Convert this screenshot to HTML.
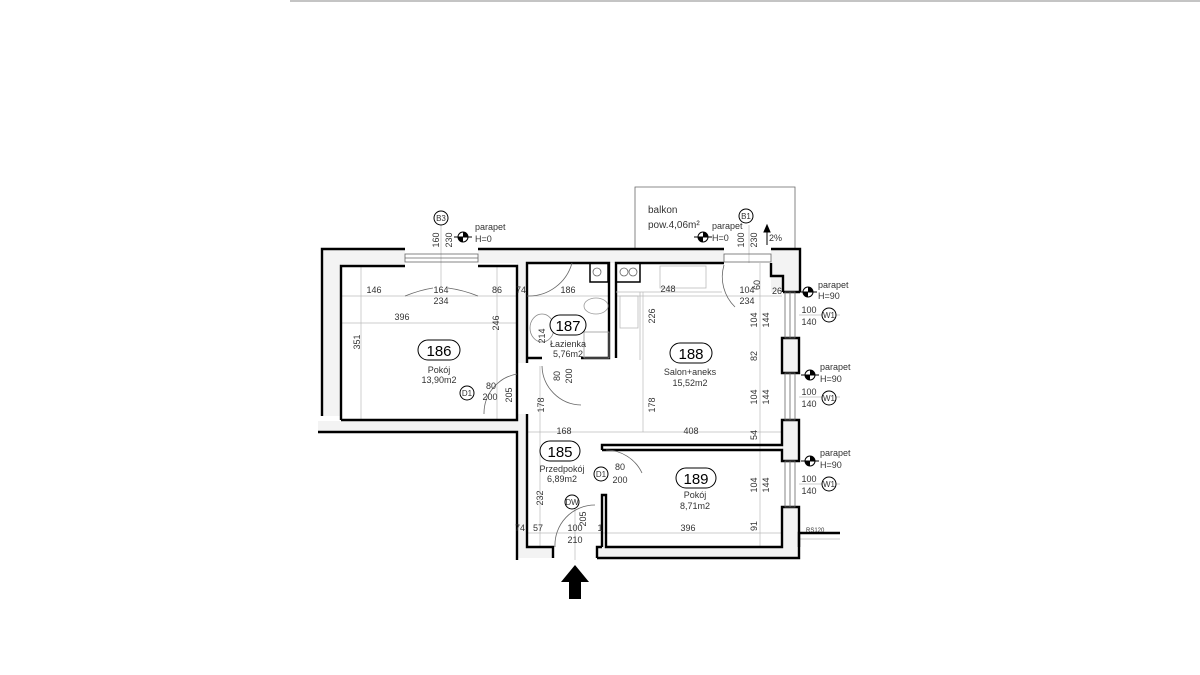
<!DOCTYPE html>
<html><head><meta charset="utf-8"><style>
html,body{margin:0;padding:0;background:#fff;}
svg{display:block;font-family:"Liberation Sans",sans-serif;}
.t{font-size:9px;fill:#333;}
.d{stroke:#bbb;stroke-width:0.7;fill:none;}
.w{stroke:#000;stroke-width:2.4;fill:none;}
.h{fill:#f3f3f3;}
.th{stroke:#666;stroke-width:0.8;fill:none;}
</style></head><body>
<svg width="1200" height="675" viewBox="0 0 1200 675">
<line x1="290" y1="1" x2="1200" y2="1" stroke="#888" stroke-width="1"/>
<g class="h">
<rect x="322" y="249" width="83" height="15"/>
<rect x="478" y="249" width="246" height="14"/>
<rect x="771" y="249" width="28" height="43"/>
<rect x="322" y="249" width="19" height="167"/>
<rect x="517" y="263" width="10" height="100"/>
<rect x="517" y="414" width="10" height="133"/>
<rect x="318" y="421" width="209" height="11"/>
<rect x="782" y="338" width="17" height="35"/>
<rect x="782" y="420" width="17" height="41"/>
<rect x="782" y="507" width="17" height="40"/>
<rect x="597" y="547" width="202" height="11"/>
<rect x="517" y="547" width="36" height="11"/>
</g>
<path d="M635 249 V187 H795 V249" class="th"/>
<g class="d">
<line x1="341" y1="296" x2="517" y2="296"/>
<line x1="341" y1="323" x2="517" y2="323"/>
<line x1="361" y1="267" x2="361" y2="420"/>
<line x1="497" y1="267" x2="497" y2="420"/>
<line x1="527" y1="432" x2="782" y2="432"/>
<line x1="527" y1="296" x2="609" y2="296"/>
<line x1="616" y1="296" x2="782" y2="296"/>
<line x1="527" y1="533" x2="782" y2="533"/>
<line x1="760" y1="263" x2="760" y2="547"/>
<line x1="643" y1="292" x2="643" y2="432"/>
<line x1="540" y1="366" x2="540" y2="547"/>
<line x1="799" y1="315" x2="840" y2="315"/>
<line x1="799" y1="397" x2="840" y2="397"/>
<line x1="799" y1="484" x2="840" y2="484"/>
<line x1="441" y1="225" x2="441" y2="290"/>
<line x1="749" y1="225" x2="749" y2="263"/>
<line x1="575" y1="500" x2="575" y2="560"/>
<line x1="799" y1="539" x2="840" y2="539"/>
</g>
<g class="w">
<path d="M322 416 V249 H405 M478 249 H724 M771 249 H800 V292"/>
<path d="M341 420 V266 H405 M478 266 H517 V420 H341"/>
<path d="M527 363 V263 H609 V358 H581 M542 358 H527"/>
<path d="M616 358 V263 H724 M771 263 V276 H783 V292"/>
<path d="M318 432 H517 V560"/>
<path d="M527 414 V547 H553 V558 M597 558 V547 H602"/>
<path d="M597 558 H799 V533 H840"/>
<path d="M602 547 V495 H606 V547 H782 V507 H799 V547"/>
<path d="M602 450 V445 H782 V420 H799 V461 H782 V450 H602"/>
<path d="M782 338 H799 V373 H782 Z"/>
<path d="M783 292 H800"/>
</g>
<g class="th">
<rect x="405" y="254" width="73" height="8"/>
<line x1="405" y1="258" x2="478" y2="258"/>
<rect x="724" y="254" width="47" height="8"/>
<rect x="785" y="292" width="10" height="46"/><line x1="790" y1="292" x2="790" y2="338"/>
<rect x="785" y="373" width="10" height="47"/><line x1="790" y1="373" x2="790" y2="420"/>
<rect x="785" y="461" width="10" height="46"/><line x1="790" y1="461" x2="790" y2="507"/>
<path d="M405 296 Q420 290 433 288"/><path d="M478 296 Q463 290 448 288"/>
<path d="M527 296 A45 45 0 0 0 572 263"/>
<path d="M484 414 A40 40 0 0 1 517 374"/>
<path d="M542 366 A40 40 0 0 0 581 405"/>
<path d="M606 450 A40 40 0 0 1 642 473"/>
<path d="M555 547 A40 40 0 0 1 595 505"/>
<path d="M724 265 A42 42 0 0 0 735 307"/>
<rect x="590" y="263" width="18" height="19" stroke="#000" stroke-width="1.5"/>
<rect x="616" y="263" width="24" height="19" stroke="#000" stroke-width="1.5"/>
<circle cx="597" cy="272" r="4"/><circle cx="624" cy="272" r="4"/><circle cx="633" cy="272" r="4"/>
<rect x="660" y="266" width="46" height="22" stroke="#bbb"/>
<path d="M616 292 H722 M640 292 V360" stroke="#bbb"/>
<rect x="620" y="296" width="18" height="32" stroke="#bbb"/>
<ellipse cx="596" cy="306" rx="12" ry="8" stroke="#999"/>
<ellipse cx="542" cy="328" rx="12" ry="14" stroke="#888"/>
<rect x="584" y="332" width="25" height="26" stroke="#999"/>
</g>
<g fill="#fff" stroke="#000" stroke-width="1">
<rect x="418" y="340" width="42" height="20" rx="10"/>
<rect x="550" y="315" width="36" height="20" rx="10"/>
<rect x="670" y="343" width="42" height="20" rx="10"/>
<rect x="540" y="441" width="40" height="20" rx="10"/>
<rect x="676" y="468" width="40" height="20" rx="10"/>
<circle cx="441" cy="218" r="7"/><circle cx="746" cy="216" r="7"/>
<circle cx="467" cy="393" r="7"/><circle cx="601" cy="474" r="7"/><circle cx="572" cy="502" r="7"/>
<circle cx="829" cy="315" r="7"/><circle cx="829" cy="398" r="7"/><circle cx="829" cy="484" r="7"/>
</g>
<g font-size="15" text-anchor="middle" fill="#000">
<text x="439" y="356">186</text><text x="568" y="331">187</text><text x="691" y="359">188</text>
<text x="560" y="457">185</text><text x="696" y="484">189</text>
</g>
<g class="t" text-anchor="middle">
<text x="439" y="373">Pokój</text><text x="439" y="383">13,90m2</text>
<text x="568" y="347">Łazienka</text><text x="568" y="357">5,76m2</text>
<text x="690" y="375">Salon+aneks</text><text x="690" y="386">15,52m2</text>
<text x="562" y="472">Przedpokój</text><text x="562" y="482">6,89m2</text>
<text x="695" y="498">Pokój</text><text x="695" y="509">8,71m2</text>
<text x="374" y="293">146</text><text x="441" y="293">164</text><text x="441" y="304">234</text><text x="497" y="293">86</text>
<text x="402" y="320">396</text><text x="521" y="293">74</text><text x="568" y="293">186</text>
<text x="668" y="292">248</text><text x="747" y="293">104</text><text x="747" y="304">234</text><text x="777" y="294">26</text>
<text x="564" y="434">168</text><text x="691" y="434">408</text><text x="688" y="531">396</text>
<text x="538" y="531">57</text><text x="520" y="531">74</text><text x="600" y="531">1</text>
<text x="575" y="531">100</text><text x="575" y="543">210</text>
<text x="491" y="389">80</text><text x="490" y="400">200</text>
<text x="620" y="470">80</text><text x="620" y="483">200</text>
<text x="441" y="221" font-size="8">B3</text><text x="746" y="219" font-size="8">B1</text>
<text x="467" y="396" font-size="8">D1</text><text x="601" y="477" font-size="8">D1</text><text x="572" y="505" font-size="8">DW</text>
<text x="829" y="318" font-size="8">W1</text><text x="829" y="401" font-size="8">W1</text><text x="829" y="487" font-size="8">W1</text>
<text x="809" y="313">100</text><text x="809" y="325">140</text>
<text x="809" y="395">100</text><text x="809" y="407">140</text>
<text x="809" y="482">100</text><text x="809" y="494">140</text>
</g>
<g class="t">
<text x="648" y="213" font-size="10">balkon</text><text x="648" y="228" font-size="10">pow.4,06m²</text>
<text x="475" y="230">parapet</text><text x="475" y="242">H=0</text>
<text x="712" y="229">parapet</text><text x="712" y="241">H=0</text>
<text x="769" y="241">2%</text>
<text x="818" y="288">parapet</text><text x="818" y="299">H=90</text>
<text x="820" y="370">parapet</text><text x="820" y="382">H=90</text>
<text x="820" y="456">parapet</text><text x="820" y="468">H=90</text>
<text x="806" y="532" font-size="6">RS120</text>
</g>
<g class="t" text-anchor="middle">
<text transform="translate(439,240) rotate(-90)">160</text>
<text transform="translate(452,240) rotate(-90)">230</text>
<text transform="translate(744,240) rotate(-90)">100</text>
<text transform="translate(757,240) rotate(-90)">230</text>
<text transform="translate(360,342) rotate(-90)">351</text>
<text transform="translate(499,323) rotate(-90)">246</text>
<text transform="translate(545,336) rotate(-90)">214</text>
<text transform="translate(655,316) rotate(-90)">226</text>
<text transform="translate(544,405) rotate(-90)">178</text>
<text transform="translate(655,405) rotate(-90)">178</text>
<text transform="translate(560,376) rotate(-90)">80</text>
<text transform="translate(572,376) rotate(-90)">200</text>
<text transform="translate(543,498) rotate(-90)">232</text>
<text transform="translate(757,320) rotate(-90)">104</text>
<text transform="translate(769,320) rotate(-90)">144</text>
<text transform="translate(757,356) rotate(-90)">82</text>
<text transform="translate(757,397) rotate(-90)">104</text>
<text transform="translate(769,397) rotate(-90)">144</text>
<text transform="translate(757,435) rotate(-90)">54</text>
<text transform="translate(757,485) rotate(-90)">104</text>
<text transform="translate(769,485) rotate(-90)">144</text>
<text transform="translate(757,526) rotate(-90)">91</text>
<text transform="translate(760,285) rotate(-90)">60</text>
<text transform="translate(512,395) rotate(-90)">205</text>
<text transform="translate(586,519) rotate(-90)">205</text>
</g>
<g>
<g transform="translate(463,237)"><circle r="5" fill="#fff" stroke="#000"/><path d="M0 -5 A5 5 0 0 1 5 0 L0 0 Z M0 5 A5 5 0 0 1 -5 0 L0 0Z" fill="#000"/><line x1="-9" y1="0" x2="9" y2="0" stroke="#000"/></g>
<g transform="translate(703,237)"><circle r="5" fill="#fff" stroke="#000"/><path d="M0 -5 A5 5 0 0 1 5 0 L0 0 Z M0 5 A5 5 0 0 1 -5 0 L0 0Z" fill="#000"/><line x1="-9" y1="0" x2="9" y2="0" stroke="#000"/></g>
<g transform="translate(808,292)"><circle r="5" fill="#fff" stroke="#000"/><path d="M0 -5 A5 5 0 0 1 5 0 L0 0 Z M0 5 A5 5 0 0 1 -5 0 L0 0Z" fill="#000"/><line x1="-9" y1="0" x2="9" y2="0" stroke="#000"/></g>
<g transform="translate(810,375)"><circle r="5" fill="#fff" stroke="#000"/><path d="M0 -5 A5 5 0 0 1 5 0 L0 0 Z M0 5 A5 5 0 0 1 -5 0 L0 0Z" fill="#000"/><line x1="-9" y1="0" x2="9" y2="0" stroke="#000"/></g>
<g transform="translate(810,461)"><circle r="5" fill="#fff" stroke="#000"/><path d="M0 -5 A5 5 0 0 1 5 0 L0 0 Z M0 5 A5 5 0 0 1 -5 0 L0 0Z" fill="#000"/><line x1="-9" y1="0" x2="9" y2="0" stroke="#000"/></g>
<path d="M767 245 V227 M764 232 L767 225 L770 232Z" stroke="#000" fill="#000"/>
</g>
<path d="M575 565 L589 582 L581 582 L581 599 L569 599 L569 582 L561 582 Z" fill="#000"/>
</svg>
</body></html>
